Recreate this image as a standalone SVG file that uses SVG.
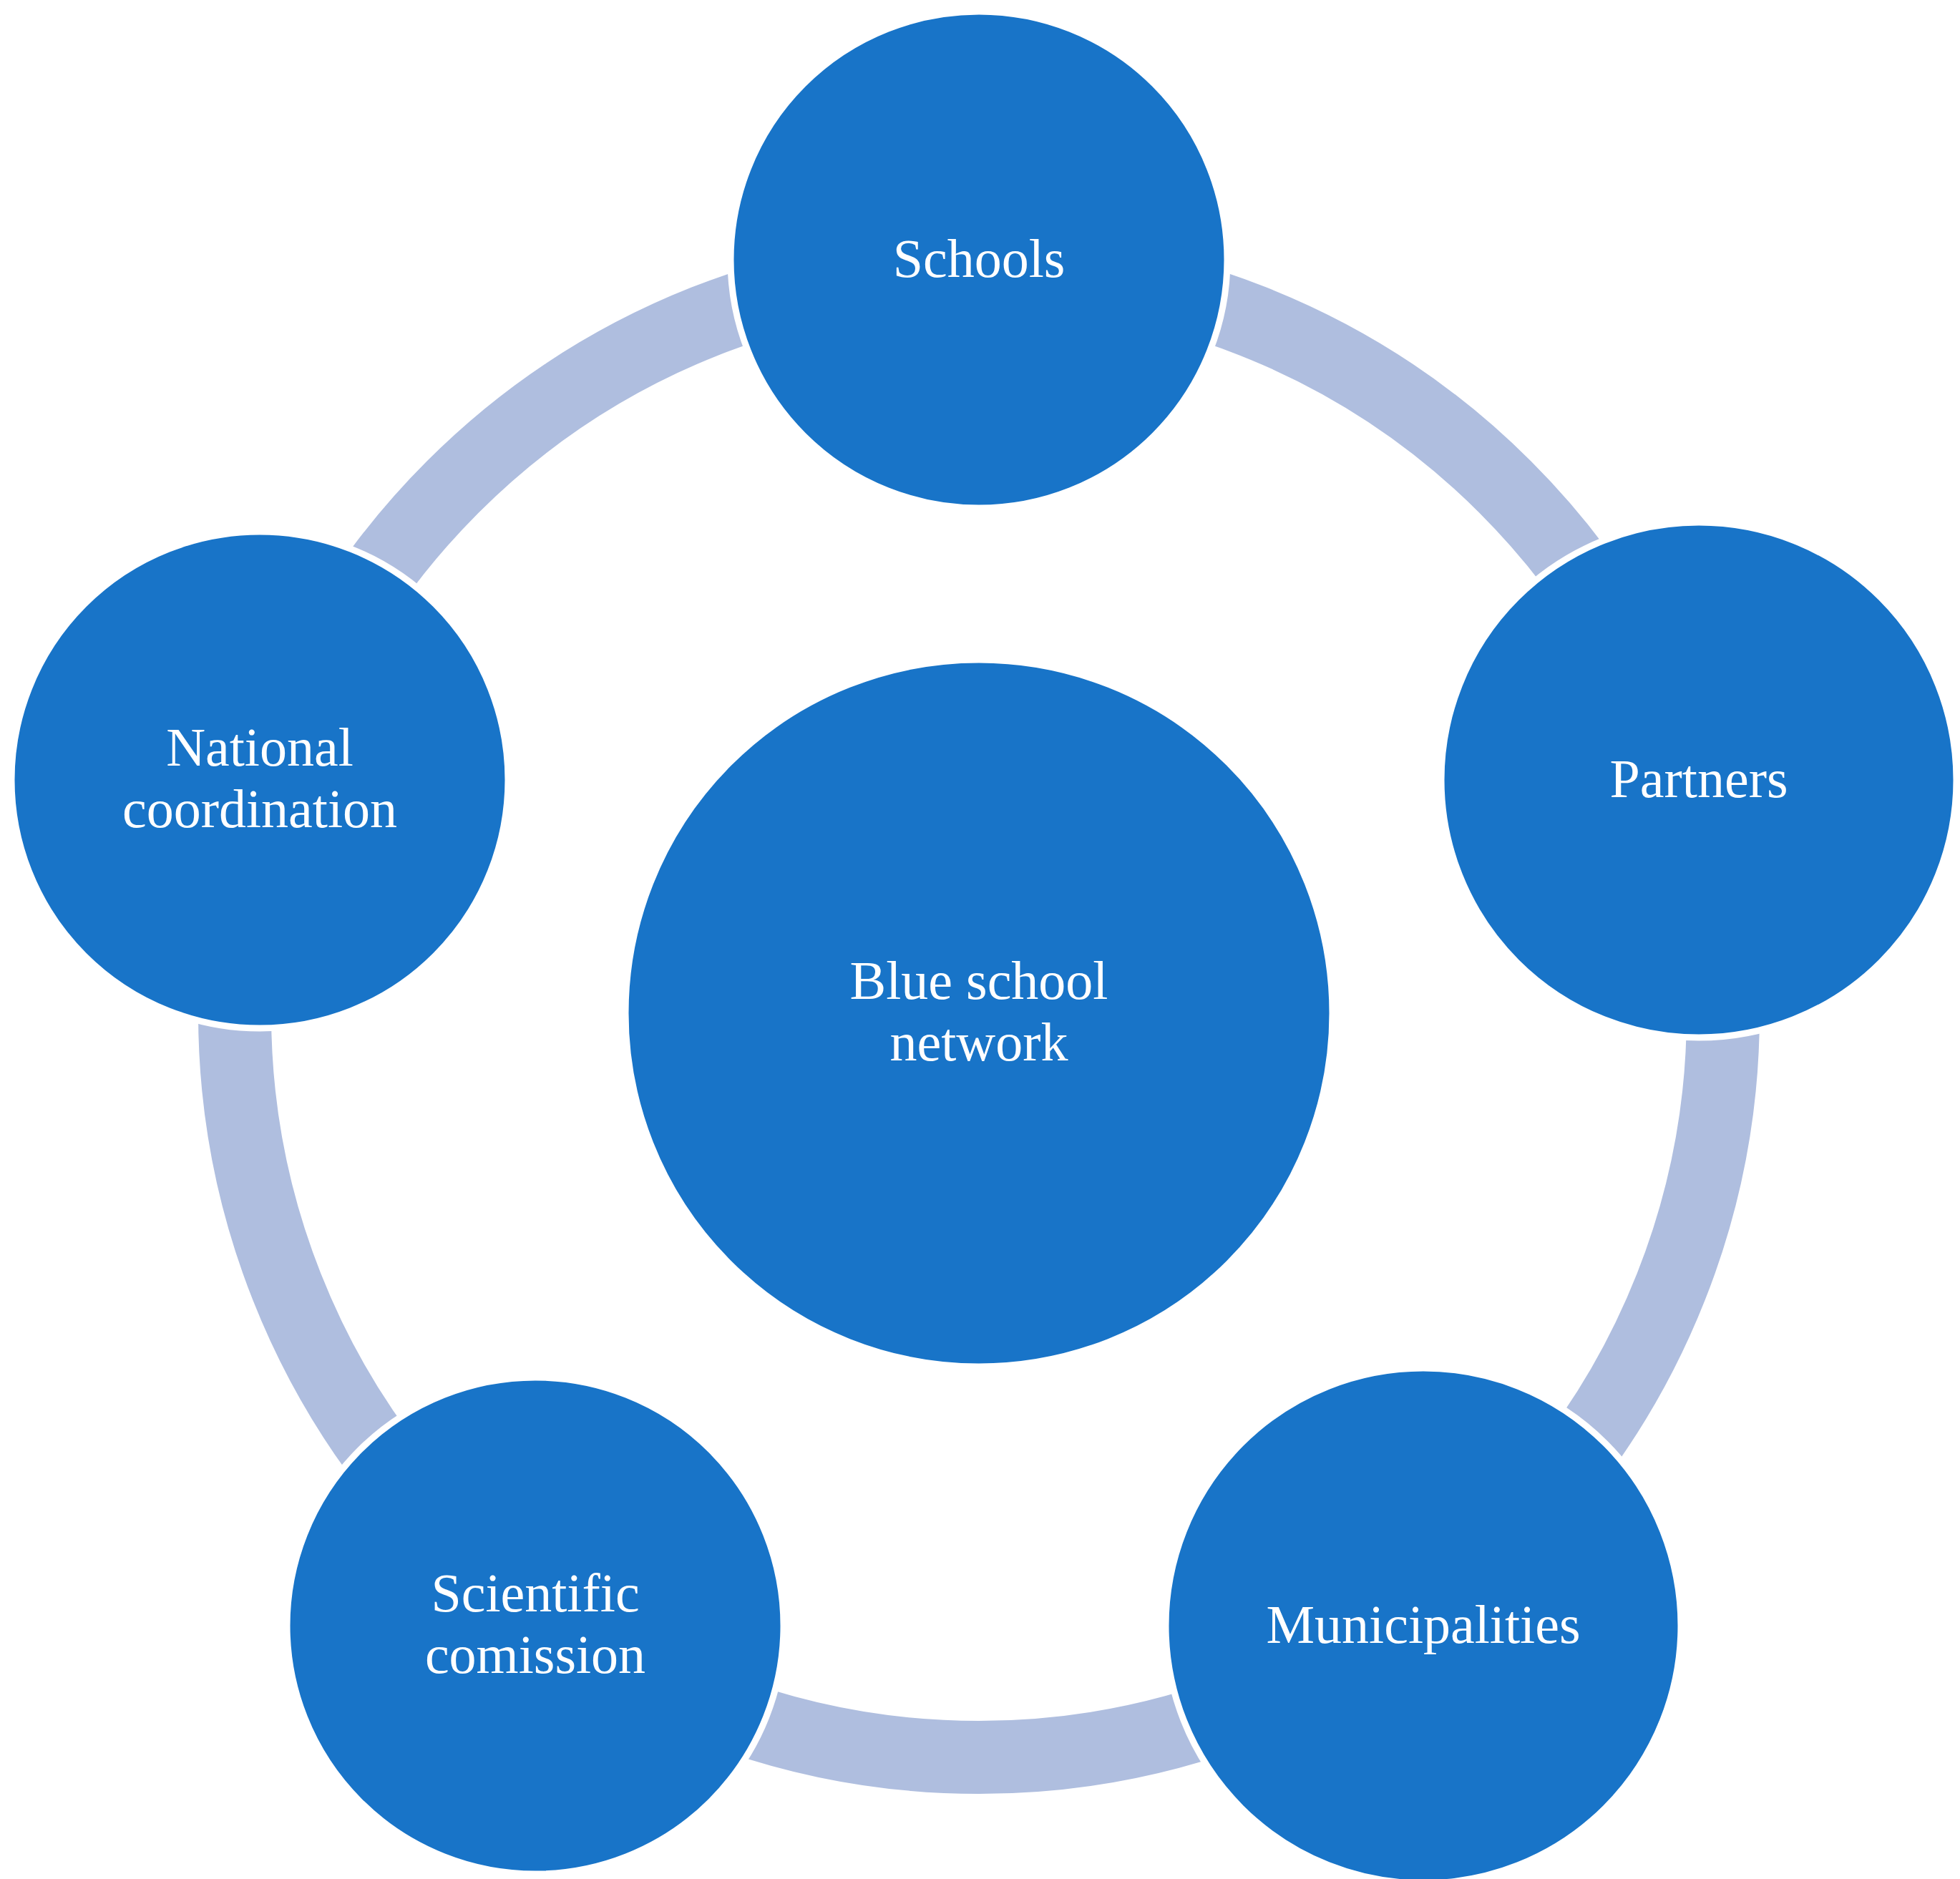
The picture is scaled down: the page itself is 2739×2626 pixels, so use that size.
<svg xmlns="http://www.w3.org/2000/svg" width="2739" height="2626" viewBox="0 0 2739 2626">
<style>
.n{fill:#1874C8;stroke:#fff;stroke-width:9}
.t{font-family:"Liberation Serif",serif;font-size:76px;fill:#fff;text-anchor:middle}
</style>
<rect width="2739" height="2626" fill="#fff"/>
<g id="connectors"><circle cx="1368" cy="1416" r="1040" fill="none" stroke="#AFBEDF" stroke-width="102"/></g>
<g id="center"><circle class="n" cx="1368" cy="1416" r="494"/><text class="t" x="1368" y="1396">Blue school</text><text class="t" x="1368" y="1482">network</text></g>
<g id="schools"><circle class="n" cx="1368" cy="363" r="347"/><text class="t" x="1368" y="387">Schools</text></g>
<g id="partners"><circle class="n" cx="2374" cy="1090" r="360"/><text class="t" x="2374" y="1114">Partners</text></g>
<g id="municipalities"><circle class="n" cx="1989" cy="2272" r="360"/><text class="t" x="1989" y="2296">Municipalities</text></g>
<g id="scientific"><circle class="n" cx="748" cy="2272" r="347"/><text class="t" x="748" y="2252">Scientific</text><text class="t" x="748" y="2338">comission</text></g>
<g id="national"><circle class="n" cx="363" cy="1090" r="347"/><text class="t" x="363" y="1070">National</text><text class="t" x="363" y="1156">coordination</text></g>
</svg>
